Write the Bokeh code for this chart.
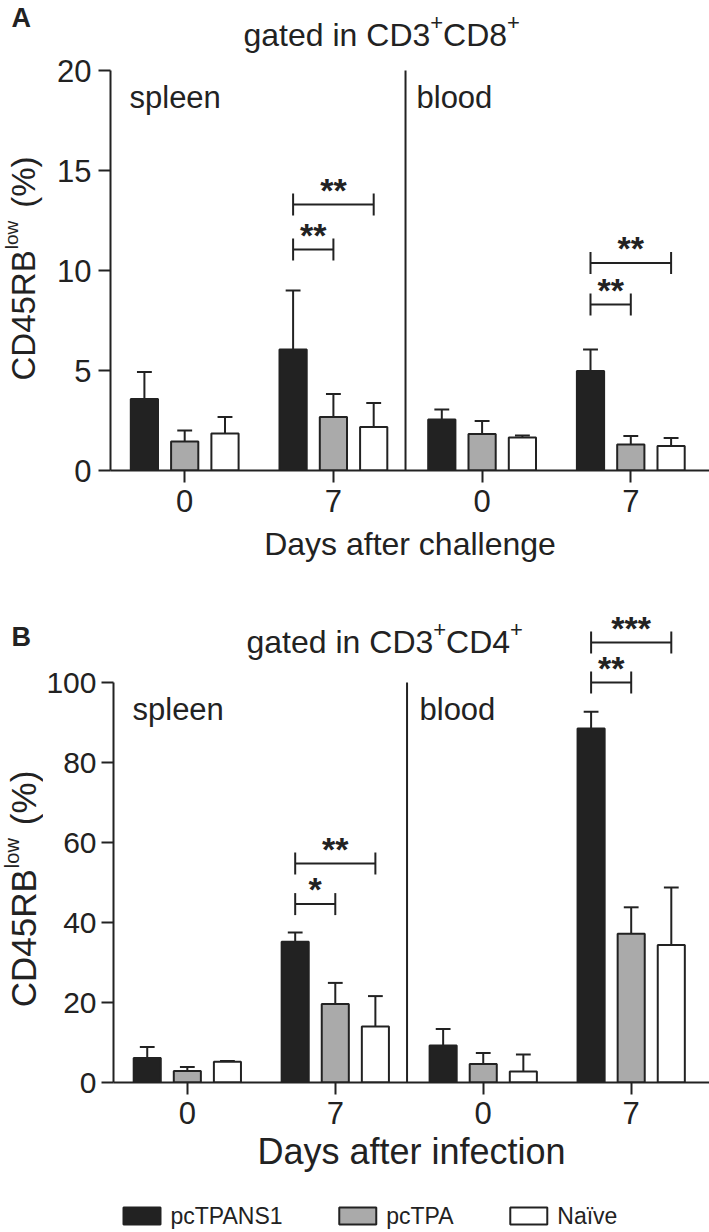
import math
from bokeh.plotting import figure
from bokeh.models import Range1d, FixedTicker, Label, ColumnDataSource
from bokeh.layouts import column, row
from bokeh.embed import file_html
from bokeh.resources import INLINE
from bokeh.core.properties import value

# ---------------- data ----------------
days = ["0", "7", "0", "7"]
tissues = ["spleen", "blood"]
groups = ["pcTPANS1", "pcTPA", "Naïve"]

# Panel A: gated in CD3+CD8+ (CD45RBlow %), mean and SEM
cd8_pctpans1 = [3.58, 6.05, 2.55, 4.98]
cd8_pctpa = [1.45, 2.67, 1.83, 1.30]
cd8_naive = [1.85, 2.17, 1.65, 1.22]
cd8_pctpans1_err = [1.34, 2.95, 0.50, 1.07]
cd8_pctpa_err = [0.55, 1.16, 0.65, 0.43]
cd8_naive_err = [0.82, 1.20, 0.10, 0.40]

# Panel B: gated in CD3+CD4+
cd4_pctpans1 = [6.1, 35.2, 9.25, 88.5]
cd4_pctpa = [2.9, 19.6, 4.6, 37.2]
cd4_naive = [5.2, 14.0, 2.75, 34.4]
cd4_pctpans1_err = [2.8, 2.3, 4.15, 4.2]
cd4_pctpa_err = [1.0, 5.3, 2.8, 6.6]
cd4_naive_err = [0.2, 7.6, 4.25, 14.35]

# significance brackets: day-group index, from bar, to bar, bracket level, stars
cd8_sig_group = [1, 1, 3, 3]
cd8_sig_from = [0, 0, 0, 0]
cd8_sig_to = [2, 1, 2, 1]
cd8_sig_level = [13.3, 11.05, 10.37, 8.3]
cd8_sig_text = ["**", "**", "**", "**"]

cd4_sig_group = [1, 1, 3, 3]
cd4_sig_from = [0, 0, 0, 0]
cd4_sig_to = [2, 1, 2, 1]
cd4_sig_level = [54.75, 44.6, 110.0, 100.0]
cd4_sig_text = ["**", "*", "***", "**"]

cd8_ticks = [0, 5, 10, 15, 20]
cd4_ticks = [0, 20, 40, 60, 80, 100]

# ---------------- style ----------------
FONT = "Liberation Sans"
INK = "#222222"
FILLS = ["#222222", "#aaaaaa", "#ffffff"]
PAGE_W = 709
STRIP_W = 43
W_FIG = PAGE_W - STRIP_W
BORDER_L = 110 - STRIP_W
FRAME_W = W_FIG - BORDER_L
X0 = -0.499
PX_PER_X = 148.7
X1 = X0 + FRAME_W / PX_PER_X
BAR_OFF = 0.271
BAR_W = 0.183
CAP = 0.05
DIVIDER_X = 1.485

ADV = {'g': 556, 'a': 556, 't': 278, 'e': 556, 'd': 556, ' ': 278, 'i': 222, 'n': 556,
       'C': 722, 'D': 722, '3': 556, '8': 556, '4': 556, '+': 584, 'l': 222, 'o': 556,
       'w': 722, 'R': 722, 'B': 667, '5': 556, '(': 333, '%': 889, ')': 333,
       'p': 556, 'c': 500, 'T': 611, 'P': 667, 'A': 667, 'N': 722, 'S': 667, '1': 556,
       'ï': 278, 'v': 500}


def tw(s, size):
    return sum(ADV[c] for c in s) * size / 1000.0


def label(p, x, y, text, size, bold=False):
    p.add_layout(Label(x=x, y=y, x_units="screen", y_units="screen", text=text,
                       text_font=FONT, text_font_size=f"{size}px", text_color=INK,
                       text_font_style="bold" if bold else "normal",
                       text_align="left", text_baseline="middle"))


def blank(w, h, frame_h=None):
    # pixel-unit canvas: x from left, y downward from the top
    fh = h if frame_h is None else frame_h
    s = figure(width=w, height=h, output_backend="svg", toolbar_location=None,
               x_range=Range1d(0, w), y_range=Range1d(fh, 0),
               x_axis_type=None, y_axis_type=None,
               min_border_left=0, min_border_right=0, min_border_top=0,
               min_border_bottom=h - fh)
    s.outline_line_color = None
    return s


def make_strip(h, frame_h, letter, letter_y, ylab_start, ylab_size, ylab_sup):
    s = blank(STRIP_W, h, frame_h)
    s.text(x=[11], y=[letter_y], text=[letter], text_font=value(FONT), text_font_size="27px",
           text_font_style="bold", text_color=INK, text_align="left", text_baseline="middle")
    # rotated y-axis title: CD45RB^low (%), pieces placed by their centres
    a = math.pi / 2
    y = ylab_start
    pieces = [("CD45RB", ylab_size, 23.0), ("low", ylab_sup, 11.0), ("(%)", ylab_size, 23.0)]
    gaps = [1, 13, 0]
    for (txt, sz, xc), gap in zip(pieces, gaps):
        L = tw(txt, sz)
        s.text(x=[xc], y=[y - L / 2], text=[txt], angle=a, text_font=value(FONT),
               text_font_size=f"{sz}px", text_color=INK, text_align="center",
               text_baseline="middle")
        y -= L + gap
    return s


def make_panel(fig_h, frame_h, px_per_y, ticks, y_axis_top, means, errs, sig,
               xlabel, xlabel_size, xlabel_standoff, ytick_size, ytick_standoff,
               title_main, title_sup, title_y):
    p = figure(width=W_FIG, height=fig_h, output_backend="svg", toolbar_location=None,
               x_range=Range1d(X0, X1), y_range=Range1d(0, frame_h / px_per_y),
               min_border_left=BORDER_L, min_border_right=0, min_border_top=0,
               min_border_bottom=fig_h - frame_h)
    p.grid.visible = False
    p.outline_line_color = None

    ya = p.yaxis[0]
    ya.ticker = FixedTicker(ticks=ticks)
    ya.bounds = (0, y_axis_top)
    xa = p.xaxis[0]
    xa.ticker = FixedTicker(ticks=list(range(len(days))))
    xa.major_label_overrides = {i: d for i, d in enumerate(days)}
    xa.axis_label = xlabel
    xa.axis_label_text_font_size = f"{xlabel_size}px"
    xa.axis_label_text_font_style = "normal"
    xa.axis_label_standoff = xlabel_standoff
    for ax in (xa, ya):
        ax.axis_line_color = INK
        ax.axis_line_width = 2
        ax.major_tick_line_color = INK
        ax.major_tick_line_width = 2
        ax.major_tick_out = 12
        ax.major_tick_in = 0
        ax.minor_tick_line_color = None
        ax.major_label_text_font = FONT
        ax.major_label_text_color = INK
        ax.axis_label_text_font = FONT
        ax.axis_label_text_color = INK
    xa.major_label_text_font_size = "31px"
    ya.major_label_text_font_size = f"{ytick_size}px"
    xa.major_label_standoff = 7
    ya.major_label_standoff = ytick_standoff

    # divider spleen | blood
    p.segment(x0=[DIVIDER_X], y0=[0], x1=[DIVIDER_X], y1=[y_axis_top], line_color=INK, line_width=2)

    # bars + error bars
    for i in range(3):
        xs = [g + (i - 1) * BAR_OFF for g in range(len(days))]
        ups = [m + e for m, e in zip(means[i], errs[i])]
        src = ColumnDataSource(dict(x=xs, top=means[i], up=ups,
                                    xl=[x - CAP for x in xs], xr=[x + CAP for x in xs]))
        p.segment(x0="x", y0="top", x1="x", y1="up", source=src, line_color=INK, line_width=2)
        p.segment(x0="xl", y0="up", x1="xr", y1="up", source=src, line_color=INK, line_width=2)
        p.vbar(x="x", top="top", bottom=0, width=BAR_W, source=src,
               fill_color=FILLS[i], line_color=INK, line_width=2)

    # significance brackets
    g_, f_, t_, lv, tx = sig
    tick_h = 11.0 / px_per_y
    star_off = 15.0 / px_per_y
    xa_ = [g + (f - 1) * BAR_OFF for g, f in zip(g_, f_)]
    xb_ = [g + (t - 1) * BAR_OFF for g, t in zip(g_, t_)]
    p.segment(x0=xa_, y0=lv, x1=xb_, y1=lv, line_color=INK, line_width=2)
    p.segment(x0=xa_ + xb_, y0=[v - tick_h for v in lv] * 2, x1=xa_ + xb_,
              y1=[v + tick_h for v in lv] * 2, line_color=INK, line_width=2)
    p.text(x=[(a + b) / 2 for a, b in zip(xa_, xb_)], y=[v + star_off for v in lv], text=tx,
           text_align="center", text_baseline="middle", text_font=value(FONT),
           text_font_size="34px", text_font_style="bold", text_color=INK)

    # tissue labels (screen px from frame's lower-left)
    label(p, 19, 373, tissues[0], 31)
    label(p, 306, 373, tissues[1], 31)

    # title with superscripts
    x = 133
    main_sz, sup_sz = 32, 22
    for j, piece in enumerate(title_main):
        label(p, x, title_y, piece, main_sz)
        x += tw(piece, main_sz)
        label(p, x, title_y + 12, title_sup[j], sup_sz)
        x += tw(title_sup[j], sup_sz)
    return p


H_A, H_B, H_L = 600, 590, 42
F_A, F_B = 470, 482

pA = make_panel(H_A, F_A, 20.0, cd8_ticks, 20,
                [cd8_pctpans1, cd8_pctpa, cd8_naive],
                [cd8_pctpans1_err, cd8_pctpa_err, cd8_naive_err],
                (cd8_sig_group, cd8_sig_from, cd8_sig_to, cd8_sig_level, cd8_sig_text),
                "Days after challenge", 32, 11, 31, 7,
                ["gated in CD3", "CD8"], ["+", "+"], 435.7)
sA = make_strip(H_A, F_A, "A", 17.5, 380, 33, 19)

pB = make_panel(H_B, F_B, 4.0, cd4_ticks, 100,
                [cd4_pctpans1, cd4_pctpa, cd4_naive],
                [cd4_pctpans1_err, cd4_pctpa_err, cd4_naive_err],
                (cd4_sig_group, cd4_sig_from, cd4_sig_to, cd4_sig_level, cd4_sig_text),
                "Days after infection", 36, 4, 30, 5,
                ["gated in CD3", "CD4"], ["+", "+"], 441)
sB = make_strip(H_B, F_B, "B", 36.5, 406.7, 35, 20)

# legend strip (swatch + label per group)
pL = blank(PAGE_W, H_L)
LEG_X0, LEG_SW_W, LEG_SW_H, LEG_STANDOFF, LEG_GAP, LEG_FS, LEG_Y = 123, 37, 17, 10, 55, 23, 25.5
sw_x, tx_x = [], []
x = LEG_X0
for name in groups:
    sw_x.append(x + LEG_SW_W / 2)
    tx_x.append(x + LEG_SW_W + LEG_STANDOFF)
    x += LEG_SW_W + LEG_STANDOFF + tw(name, LEG_FS) + LEG_GAP
pL.rect(x=sw_x, y=[LEG_Y] * 3, width=LEG_SW_W, height=LEG_SW_H,
        fill_color=FILLS, line_color=INK, line_width=2)
pL.text(x=tx_x, y=[LEG_Y] * 3, text=groups, text_font=value(FONT),
        text_font_size=f"{LEG_FS}px", text_color=INK, text_align="left", text_baseline="middle")

layout = column(row(sA, pA), row(sB, pB), pL)
open("out.html", "w", encoding="utf-8").write(file_html(layout, INLINE))
